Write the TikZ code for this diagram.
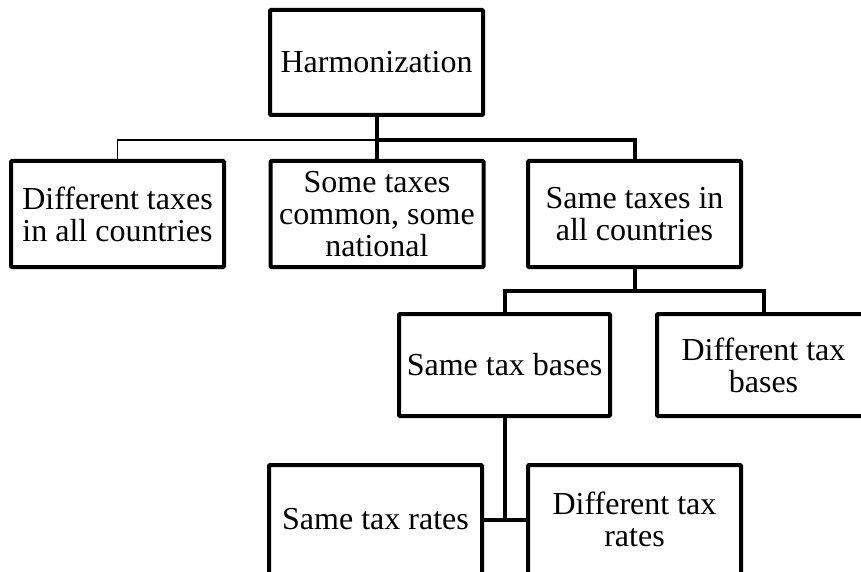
\documentclass[tikz,border=0pt]{standalone}
\usepackage{fontspec}
\setmainfont{Liberation Serif}
\begin{document}
\begin{tikzpicture}[x=1pt,y=-1pt,
  box/.style={draw, line width=4pt, rounded corners=1pt, align=center, inner sep=0pt,
    minimum width=213pt, minimum height=106pt, font=\fontsize{32}{32}\selectfont},
  thk/.style={line width=4pt},
  thn/.style={line width=1.3pt}]
\useasboundingbox (0,0) rectangle (861,572);
\node[box, minimum height=105pt] (h) at (376.5,62.5) {Harmonization};
\node[box] (b1) at (117.5,214) {Different taxes\\in all countries};
\node[box] (b2) at (377,214) {Some taxes\\common, some\\national};
\node[box] (b3) at (634.5,214) {Same taxes in\\all countries};
\node[box, minimum width=211pt, minimum height=102pt] (b4) at (504.5,365) {Same tax bases};
\node[box, minimum height=102pt] (b5) at (763.5,365) {Different tax\\bases};
\node[box, minimum height=109pt] (b6) at (375.5,519.5) {Same tax rates};
\node[box, minimum height=109pt] (b7) at (634.5,519.5) {Different tax\\rates};
% connectors
\draw[thk] (h.south) -- ++(0,23) coordinate (j1);
\draw[thk] (j1) -| (b3.north);
\draw[thk] (j1) -- (j1 |- b2.north);
\draw[thn] (j1) -| (b1.north);
\draw[thk] (b3.south) -- ++(0,22) coordinate (j2);
\draw[thk] (b4.north) |- (j2) -| (b5.north);
\draw[thk] (b4.south) -- (b4.south |- b6.east);
\draw[thk] (b6.east) -- (b7.west);
\end{tikzpicture}
\end{document}
